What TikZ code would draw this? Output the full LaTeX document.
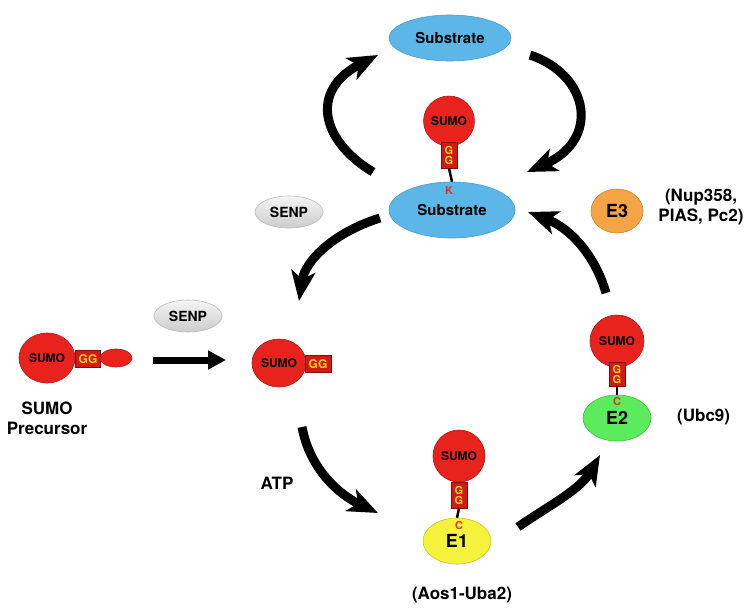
\documentclass[tikz,border=0pt]{standalone}
\usepackage{fontspec}
\setmainfont{TeX Gyre Heros}
\usetikzlibrary{shapes.geometric,arrows.meta}
\definecolor{sumored}{HTML}{E8231E}
\definecolor{sumoedge}{HTML}{B01515}
\definecolor{ggfill}{HTML}{D21A14}
\definecolor{ggedge}{HTML}{8A0A0A}
\definecolor{ggtext}{HTML}{FFD21E}
\definecolor{subblue}{HTML}{5DB6E8}
\definecolor{subedge}{HTML}{4A9BD0}
\definecolor{e2green}{HTML}{5CEB5C}
\definecolor{e2edge}{HTML}{3CBF3C}
\definecolor{e1yellow}{HTML}{F4F23A}
\definecolor{e1edge}{HTML}{C8C620}
\definecolor{e3orange}{HTML}{F3A545}
\definecolor{e3edge}{HTML}{D08530}
\definecolor{ckred}{HTML}{E0341A}
\tikzset{
  blob/.style={ellipse, inner sep=0pt, line width=0.6pt},
  sumo/.style={blob, fill=sumored, draw=sumoedge, font=\bfseries\fontsize{12}{12}\selectfont},
  ggv/.style={rectangle, draw=ggedge, fill=ggfill, line width=0.8pt, inner sep=0pt,
     minimum width=16pt, minimum height=26pt, text=ggtext, align=center,
     font=\bfseries\fontsize{11}{10}\selectfont},
  ggh/.style={rectangle, draw=ggedge, fill=ggfill, line width=0.8pt, inner sep=0pt,
     minimum width=26pt, minimum height=17pt, text=ggtext,
     font=\bfseries\fontsize{12}{12}\selectfont},
  substr/.style={blob, fill=subblue, draw=subedge, font=\bfseries\fontsize{15}{15}\selectfont},
  senp/.style={blob, top color=gray!8, bottom color=gray!40, draw=gray!55,
     minimum width=68pt, minimum height=32pt, font=\bfseries\fontsize{14}{14}\selectfont},
  enz/.style={blob, font=\bfseries\fontsize{18}{18}\selectfont},
  lbl/.style={inner sep=0pt, font=\bfseries\fontsize{17}{20}\selectfont},
  ck/.style={inner sep=0pt, text=ckred, font=\bfseries\fontsize{11}{11}\selectfont},
  stick/.style={line width=2.5pt},
  bigarrow/.style={line width=9pt, -{Stealth[length=30pt,width=24pt,inset=8pt]}},
  straightarrow/.style={line width=7pt, -{Triangle[length=18pt,width=18pt]}}
}
\begin{document}
\begin{tikzpicture}[x=1pt,y=-1pt]
\useasboundingbox (0,0) rectangle (752,611);
% top substrate
\node[substr, minimum width=122pt, minimum height=46pt] (sub1) at (450,38) {Substrate};
% middle substrate with SUMO
\node[substr, minimum width=126pt, minimum height=56pt] (sub2) at (452,210) {Substrate};
\node[sumo, minimum width=50pt, minimum height=50pt] (sumoT) at (449,121) {SUMO};
\node[ggv] (ggT) at (449,155) {G\\G};
\draw[stick] (ggT.south) -- (sub2.north);
\node[ck] (kT) at (449,190) {K};
% SENP
\node[senp] (senp1) at (289,212) {SENP};
\node[senp] (senp2) at (188,316) {SENP};
% E3
\node[enz, fill=e3orange, draw=e3edge, minimum width=52pt, minimum height=44pt] (e3) at (617,211) {E3};
\node[lbl, align=center] (e3l) at (701,207) {(Nup358,\\PIAS, Pc2)};
% precursor
\node[sumo, minimum width=56pt, minimum height=50pt] (sumoP) at (47,358) {SUMO};
\node[ggh, minimum width=25pt] (ggP) at (88,359) {GG};
\node[blob, fill=sumored, draw=sumoedge, minimum width=32pt, minimum height=18pt] (tailP) at (116,358) {};
\node[lbl, align=center] (precl) at (47,418) {SUMO\\Precursor};
% straight arrow
\coordinate (sa1) at (153,360);
\coordinate (sa2) at (226,360);
\draw[straightarrow] (sa1) -- (sa2);
% mature SUMO
\node[sumo, minimum width=54pt, minimum height=48pt] (sumoM) at (279,363) {SUMO};
\node[ggh] (ggM) at (318,364) {GG};
% ATP
\node[lbl] (atp) at (277,483) {ATP};
% E2 group
\node[enz, fill=e2green, draw=e2edge, minimum width=68pt, minimum height=46pt] (e2) at (617,418) {E2};
\node[sumo, minimum width=54pt, minimum height=52pt] (sumo2) at (617,341) {SUMO};
\node[ggv, minimum height=24pt] (gg2) at (617,374) {G\\G};
\draw[stick] (gg2.south) -- (e2.north);
\node[ck] (c2) at (617,401) {C};
\node[lbl, anchor=west] (ubc) at (677,417) {(Ubc9)};
% E1 group
\node[enz, fill=e1yellow, draw=e1edge, minimum width=68pt, minimum height=46pt] (e1) at (457,541) {E1};
\node[sumo, minimum width=52pt, minimum height=52pt] (sumo1) at (459,456) {SUMO};
\node[ggv] (gg1) at (459,495) {G\\G};
\draw[stick] (gg1.south) -- (e1.north);
\node[ck] (c1) at (459,525) {C};
\node[lbl] (aos) at (462,595) {(Aos1-Uba2)};
% curved arrows
\coordinate (a1s) at (373,172); \coordinate (a1e) at (378,55);
\coordinate (a2s) at (530,55);  \coordinate (a2e) at (527,172);
\coordinate (a3s) at (380,218); \coordinate (a3e) at (299,301);
\coordinate (a4s) at (606,293); \coordinate (a4e) at (528,212);
\coordinate (a5s) at (302,427); \coordinate (a5e) at (378,513);
\coordinate (a6s) at (518,527); \coordinate (a6e) at (600,455);
\draw[bigarrow] (a1s) .. controls (320,140) and (310,90) .. (a1e);
\draw[bigarrow] (a2s) .. controls (590,75) and (600,140) .. (a2e);
\draw[bigarrow] (a3s) .. controls (335,232) and (305,260) .. (a3e);
\draw[bigarrow] (a4s) .. controls (595,255) and (570,228) .. (a4e);
\draw[bigarrow] (a5s) .. controls (310,470) and (340,495) .. (a5e);
\draw[bigarrow] (a6s) .. controls (545,508) and (580,490) .. (a6e);
\end{tikzpicture}
\end{document}
